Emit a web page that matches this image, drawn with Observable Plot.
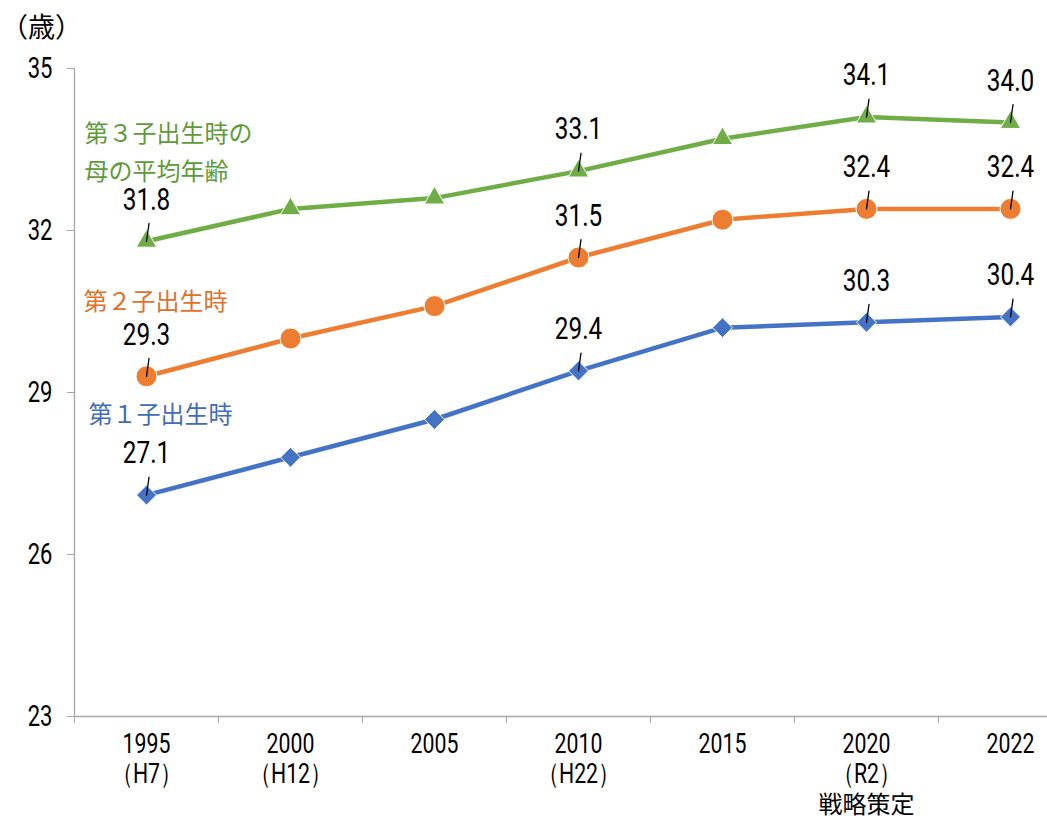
<!DOCTYPE html>
<html>
<head>
<meta charset="utf-8">
<script src="https://cdn.jsdelivr.net/npm/d3@7"></script>
<script src="https://cdn.jsdelivr.net/npm/@observablehq/plot@0.6"></script>
<style>
  html, body { margin: 0; padding: 0; background: #fff; overflow: hidden; }
  #chart svg { display: block; }
</style>
</head>
<body>
<div id="chart"></div>
<script>
// ---- data ----
const years = ["1995", "2000", "2005", "2010", "2015", "2020", "2022"];
const eraLabels = ["（H7）", "（H12）", "", "（H22）", "", "（R2）\n戦略策定", ""];
const firstChild = [27.1, 27.8, 28.5, 29.4, 30.2, 30.3, 30.4];
const secondChild = [29.3, 30.0, 30.6, 31.5, 32.2, 32.4, 32.4];
const thirdChild = [31.8, 32.4, 32.6, 33.1, 33.7, 34.1, 34.0];
const labeledYears = ["1995", "2010", "2020", "2022"];
const seriesNames = ["第１子出生時", "第２子出生時", "第３子出生時の\n母の平均年齢"];
const yTicks = [23, 26, 29, 32, 35];
const yUnit = "（歳）";

// ---- build table ----
const seriesValues = [firstChild, secondChild, thirdChild];
const rows = [];
seriesValues.forEach((vals, s) => vals.forEach((v, i) => rows.push({series: s, i, year: years[i], value: v})));
const labeled = rows.filter(d => labeledYears.includes(d.year));
const idx = years.map((_, i) => i);
const bounds = years.slice(1).map((_, i) => i + 0.5);
const eraLine = (d, k) => (eraLabels[d].split("\n")[k] || "");

const lineColors = ["#4472C4", "#ED7D31", "#70AD47"];
const textColors = ["#3F6DB6", "#E0712A", "#5E9A3C"];
const symbols = ["diamond2", "circle", "triangle"];
const radii = [9, 10.5, 7.6];

const NUM = "Roboto, 'Liberation Sans', sans-serif";
const CJK = "'Noto Sans CJK JP', sans-serif";

const fmt = v => v.toFixed(1);

const marks = [
  // axes lines
  Plot.ruleX([-0.5], {stroke: "#A6A6A6", strokeWidth: 1.3}),
  Plot.ruleY([23], {stroke: "#A6A6A6", strokeWidth: 1.3}),
  Plot.axisY({ticks: yTicks, tickSize: 7, tickPadding: 15, tickFormat: d => String(d),
    fontSize: 29, fontFamily: NUM, stroke: "#A6A6A6", color: "#000", label: null}),
  Plot.axisX({ticks: [-0.5, ...bounds], tickSize: 7, tickFormat: () => "", stroke: "#A6A6A6", label: null}),
  // category labels: year, era, note
  Plot.text(idx, {x: d => d, y: 23, text: d => years[d],
    lineAnchor: "top", dy: 17, fontSize: 28, fontFamily: NUM, fill: "#000"}),
  Plot.text(idx.filter(d => eraLine(d, 0)), {x: d => d, y: 23, text: d => eraLine(d, 0),
    lineAnchor: "top", dy: 47, fontSize: 28, fontFamily: NUM, fill: "#000"}),
  Plot.text(idx.filter(d => eraLine(d, 1)), {x: d => d, y: 23, text: d => eraLine(d, 1),
    lineAnchor: "middle", dy: 89, fontSize: 24, fontFamily: CJK, fill: "#000"}),
  // unit label
  Plot.text([yUnit], {frameAnchor: "top-left", dx: -33, dy: -40, textAnchor: "middle", lineAnchor: "middle",
    fontSize: 27, fontFamily: CJK, fill: "#000"}),
];

seriesValues.forEach((vals, s) => {
  const data = rows.filter(d => d.series === s);
  marks.push(Plot.line(data, {x: "i", y: "value", stroke: lineColors[s], strokeWidth: 4.5}));
  marks.push(Plot.dot(data, {x: "i", y: "value", symbol: symbols[s], r: radii[s],
    fill: lineColors[s], stroke: "white", strokeWidth: 1}));
});

// leader lines
const leader = {draw(context, l) { context.moveTo(0, 0); context.lineTo(0, -l); }};
marks.push(Plot.vector(labeled, {x: "i", y: "value", length: 18, rotate: 8, anchor: "start",
  shape: leader, stroke: "#000", strokeWidth: 1.3}));
// value labels
marks.push(Plot.text(labeled, {x: "i", y: "value", text: d => fmt(d.value), dy: -42,
  fontSize: 32, fontFamily: NUM, fill: "#000", style: {letterSpacing: "7px"}}));

// series names
marks.push(Plot.text([seriesNames[2]], {frameAnchor: "top-left", textAnchor: "start", lineAnchor: "middle",
  dx: 10, dy: 80, lineHeight: 1.58, fontSize: 24, fontFamily: CJK, fill: textColors[2]}));
marks.push(Plot.text([seriesNames[1]], {frameAnchor: "top-left", textAnchor: "start", lineAnchor: "middle",
  dx: 9, dy: 234, fontSize: 24, fontFamily: CJK, fill: textColors[1]}));
marks.push(Plot.text([seriesNames[0]], {frameAnchor: "top-left", textAnchor: "start", lineAnchor: "middle",
  dx: 14, dy: 347, fontSize: 24, fontFamily: CJK, fill: textColors[0]}));

const chart = Plot.plot({
  width: 1047,
  height: 819,
  marginLeft: 74,
  marginTop: 68,
  marginBottom: 103,
  marginRight: 0,
  x: {type: "linear", domain: [-0.5, 6.5], range: [74, 1082], axis: null},
  y: {domain: [23, 35], axis: null},
  style: {background: "#fff", overflow: "visible"},
  marks
});

// condense the numeric (Latin) labels horizontally, like the narrow font of the original
d3.select(chart).selectAll("g").each(function() {
  if (this.getAttribute("font-family") === NUM) {
    d3.select(this).selectAll(":scope > text").attr("transform", function() {
      return (this.getAttribute("transform") || "") + " scale(0.76,1)";
    });
  }
});
document.getElementById("chart").appendChild(chart);
</script>
</body>
</html>
